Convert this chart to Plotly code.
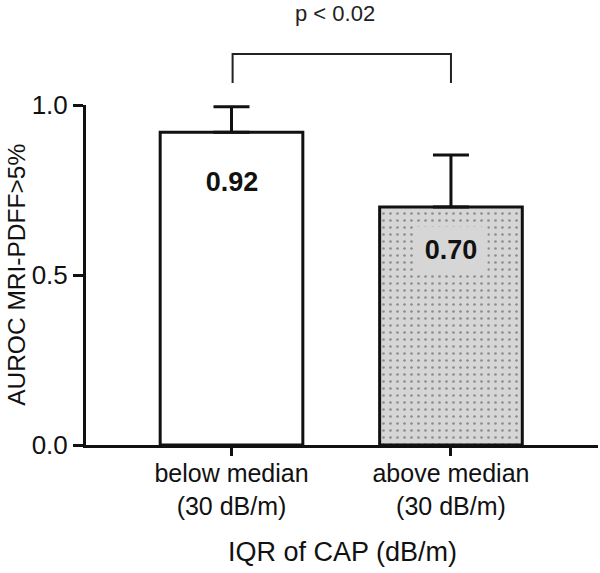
import plotly.graph_objects as go

categories = ["below median<br>(30 dB/m)", "above median<br>(30 dB/m)"]
values = [0.92, 0.70]
err_plus = [0.075, 0.153]
value_labels = ["0.92", "0.70"]
yticks = [0.0, 0.5, 1.0]
ytick_labels = ["0.0", "0.5", "1.0"]

FONT = "Liberation Sans, Arial, sans-serif"
INK = "#111111"
GRAY = "#d6d6d6"

fig = go.Figure()
fig.add_trace(go.Bar(
    x=[0, 1], y=values,
    width=0.65,
    marker=dict(
        color=["white", GRAY],
        line=dict(color=INK, width=3),
        pattern=dict(shape=["", "."], fgcolor="#222222", bgcolor=["white", GRAY],
                     size=7, solidity=0.12),
    ),
    error_y=dict(type="data", array=err_plus, arrayminus=[0, 0], symmetric=False,
                 color=INK, thickness=3, width=18),
    cliponaxis=False,
    showlegend=False,
))

# value labels inside the bars
label_drop = [0.146, 0.126]
for i, (v, lab) in enumerate(zip(values, value_labels)):
    fig.add_annotation(x=i, y=v - label_drop[i], xref="x", yref="y", text="<b>%s</b>" % lab,
                       showarrow=False, yanchor="middle", xanchor="center",
                       font=dict(family=FONT, size=27, color=INK),
                       bgcolor=GRAY if i == 1 else "rgba(0,0,0,0)",
                       width=70, height=43, borderpad=1)

# significance bracket
fig.add_shape(type="path", xref="x", yref="paper",
              path="M 0.005,1.065 L 0.005,1.15 L 1.0,1.15 L 1.0,1.065",
              line=dict(color="#222", width=2))
fig.add_annotation(x=0.47, y=1.27, xref="x", yref="paper", text="p < 0.02",
                   showarrow=False, yanchor="middle", xanchor="center",
                   font=dict(family=FONT, size=22, color="#222"))

# axis titles
fig.add_annotation(x=-0.137, y=0.5, xref="paper", yref="paper", text="AUROC MRI-PDFF>5%",
                   textangle=-90, showarrow=False, xanchor="center", yanchor="middle",
                   font=dict(family=FONT, size=24.5, color=INK))
fig.add_annotation(x=0.5, y=-0.315, xref="paper", yref="paper", text="IQR of CAP (dB/m)",
                   showarrow=False, xanchor="center", yanchor="middle",
                   font=dict(family=FONT, size=27, color=INK))

fig.update_layout(
    width=600, height=573,
    margin=dict(l=86, r=2, t=105, b=128),
    plot_bgcolor="white", paper_bgcolor="white",
    font=dict(family=FONT, color=INK),
)
fig.update_xaxes(
    range=[-0.663, 1.67],
    tickvals=[0, 1], ticktext=categories,
    ticks="outside", ticklen=8, tickwidth=3, tickcolor=INK,
    ticklabelstandoff=-4,
    showline=True, linewidth=3, linecolor=INK, showgrid=False, zeroline=False,
    tickfont=dict(family=FONT, size=25, color=INK),
)
fig.update_yaxes(
    range=[0, 1.0],
    tickvals=yticks, ticktext=ytick_labels,
    ticks="outside", ticklen=10, tickwidth=3, tickcolor=INK,
    showline=True, linewidth=3, linecolor=INK, showgrid=False, zeroline=False,
    tickfont=dict(family=FONT, size=26, color=INK),
)

fig.write_html("out.html",
               config={"displayModeBar": False},
               post_script="document.body.style.margin='0';document.body.style.overflow='hidden';")
